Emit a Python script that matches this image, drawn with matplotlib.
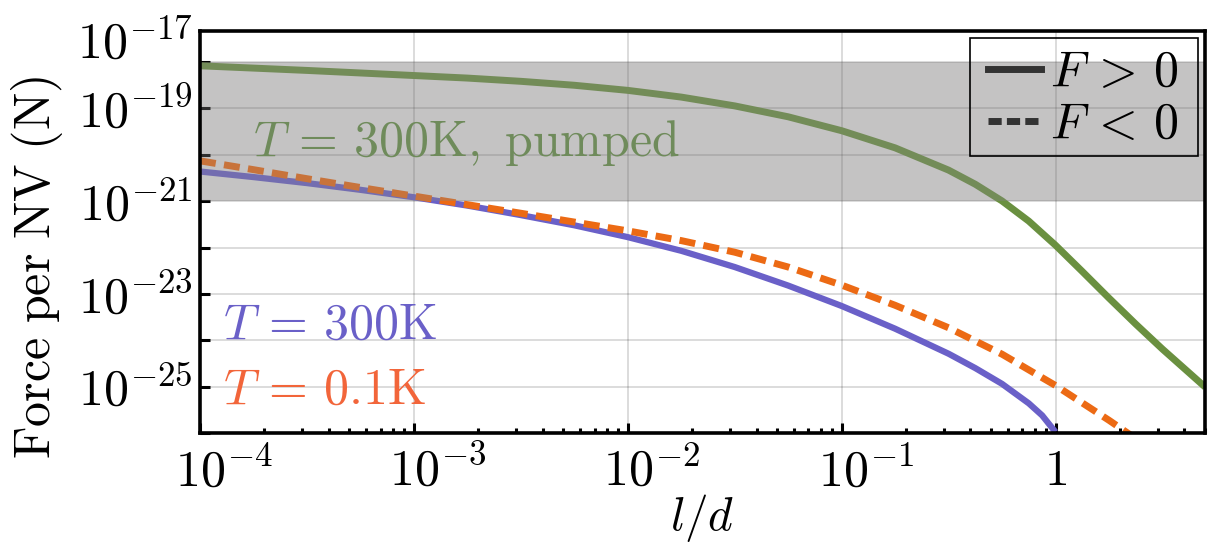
import numpy as np
import matplotlib
matplotlib.use("Agg")
import matplotlib.pyplot as plt
from matplotlib.lines import Line2D
from matplotlib.patches import Rectangle
from matplotlib.ticker import FixedLocator, FuncFormatter, LogLocator, NullLocator, NullFormatter
from matplotlib.transforms import ScaledTranslation

# log10(l/d) and log10(force per NV / N)
logld_pumped = [-4.0, -3.75, -3.5, -3.25, -3.0, -2.75, -2.5, -2.25, -2.0, -1.75, -1.5, -1.25,
                -1.0, -0.75, -0.5, -0.375, -0.25, -0.125, 0.0, 0.125, 0.25, 0.375, 0.5, 0.7]
logF_pumped = [-18.08, -18.13, -18.18, -18.235, -18.29, -18.345, -18.415, -18.50, -18.61,
               -18.755, -18.945, -19.18, -19.48, -19.85, -20.33, -20.635, -20.995, -21.43,
               -21.95, -22.515, -23.09, -23.65, -24.19, -25.01]

logld_300k = [-4.0, -3.75, -3.5, -3.25, -3.0, -2.75, -2.5, -2.25, -2.0, -1.75, -1.5, -1.25,
              -1.0, -0.75, -0.5, -0.375, -0.25, -0.125, -0.0625, 0.0]
logF_300k = [-20.36, -20.48, -20.61, -20.755, -20.915, -21.095, -21.30, -21.52, -21.775,
             -22.07, -22.42, -22.82, -23.26, -23.75, -24.29, -24.60, -24.94, -25.36,
             -25.62, -25.98]

logld_01k = [-4.0, -3.75, -3.5, -3.25, -3.0, -2.75, -2.5, -2.25, -2.0, -1.75, -1.5, -1.25,
             -1.0, -0.75, -0.5, -0.25, 0.0, 0.25, 0.375]
logF_01k = [-20.13, -20.32, -20.515, -20.705, -20.89, -21.075, -21.26, -21.45, -21.64,
            -21.85, -22.10, -22.42, -22.81, -23.245, -23.73, -24.30, -24.975, -25.725,
            -26.12]

band_low, band_high = 1e-21, 1e-18

xticks = [1e-4, 1e-3, 1e-2, 1e-1, 1.0]
xticklabels = [r"$10^{-4}$", r"$10^{-3}$", r"$10^{-2}$", r"$10^{-1}$", r"$1$"]
yexponents = [-26, -25, -24, -23, -22, -21, -20, -19, -18]
ylabeled = [-25, -23, -21, -19]

C_GREEN = "#6a9040"
C_GREEN_TXT = "#6f8b5b"
C_PURPLE = "#6a60c8"
C_ORANGE = "#ec6a14"
C_ORANGE_TXT = "#f2653a"
FS = 36

plt.rcParams["mathtext.fontset"] = "cm"
plt.rcParams["font.family"] = "serif"

fig = plt.figure(figsize=(12.09, 5.44), dpi=100)
ax = fig.add_axes([0.1654, 0.204, 0.8313, 0.739])

ax.set_xscale("log")
ax.set_yscale("log")
ax.set_xlim(1e-4, 5.0)
ax.set_ylim(1e-26, 10 ** -17.33)

# shaded band: light underlay below the curves, translucent overlay above
ax.axhspan(band_low, band_high, color="#e6e4e4", lw=0, zorder=0.5)
ax.axhspan(band_low, band_high, color="#868686", alpha=0.35, lw=0, zorder=3)

ax.plot(10.0 ** np.array(logld_pumped), 10.0 ** np.array(logF_pumped), color=C_GREEN,
        lw=5, zorder=2, solid_capstyle="butt", solid_joinstyle="round")
ax.plot(10.0 ** np.array(logld_300k), 10.0 ** np.array(logF_300k), color=C_PURPLE,
        lw=4.5, zorder=2, solid_capstyle="butt", solid_joinstyle="round")
line01, = ax.plot(10.0 ** np.array(logld_01k), 10.0 ** np.array(logF_01k), color=C_ORANGE,
                  lw=5, zorder=2.1, dash_capstyle="butt")
line01.set_dashes((2.3, 1.2))

# grid
ax.grid(True, which="major", color="black", alpha=0.18, lw=1.1)
for gl in ax.get_xgridlines() + ax.get_ygridlines():
    gl.set_zorder(1)

# ticks
ax.xaxis.set_major_locator(FixedLocator(xticks))
ax.set_xticklabels(xticklabels)
ax.xaxis.set_minor_locator(LogLocator(base=10, subs=np.arange(2, 10)))
ax.xaxis.set_minor_formatter(NullFormatter())
ax.yaxis.set_major_locator(FixedLocator([10.0 ** e for e in yexponents]))
ax.yaxis.set_minor_locator(NullLocator())
ax.yaxis.set_major_formatter(FuncFormatter(
    lambda v, p: r"$10^{%d}$" % round(np.log10(v)) if round(np.log10(v)) in ylabeled else ""))

ax.tick_params(which="both", direction="in", top=False, right=False, width=2.2,
               labelsize=FS)
ax.tick_params(axis="x", which="major", length=7, pad=10)
ax.tick_params(axis="x", which="minor", length=3.5)
ax.tick_params(axis="y", which="major", length=7, pad=5)

for s in ax.spines.values():
    s.set_linewidth(2.6)
    s.set_zorder(6)

# shift x tick labels so the base "10" sits on the tick
offset = ScaledTranslation(0.24, 0, fig.dpi_scale_trans)
for lab, txt in zip(ax.get_xticklabels(), xticklabels):
    if txt != r"$1$":
        lab.set_transform(lab.get_transform() + offset)

ax.text(-0.007, 0.98, r"$10^{-17}$", transform=ax.transAxes, ha="right",
        va="center_baseline", fontsize=FS, clip_on=False)

ax.set_xlabel(r"$l/d$", fontsize=34, labelpad=-3)
ax.set_ylabel(r"$\mathrm{Force\ per\ NV\ (N)}$", fontsize=FS)
ax.yaxis.set_label_coords(-0.134, 0.413)

ax.text(10 ** -3.752, 10 ** -20.02, r"$T\,=\,300\mathrm{K},\ \mathrm{pumped}$",
        color=C_GREEN_TXT, fontsize=FS, ha="left", va="baseline", zorder=4)
ax.text(10 ** -3.893, 10 ** -23.96, r"$T\,=\,300\mathrm{K}$",
        color=C_PURPLE, fontsize=FS, ha="left", va="baseline", zorder=4)
ax.text(10 ** -3.893, 10 ** -25.36, r"$T\,=\,0.1\mathrm{K}$",
        color=C_ORANGE_TXT, fontsize=FS, ha="left", va="baseline", zorder=4)

# legend (content without frame) plus a separate box drawn around it
h_pos = Line2D([], [], color="#333333", lw=5)
h_neg = Line2D([], [], color="#333333", lw=5, dashes=(1.9, 0.75), dash_capstyle="butt")
leg = ax.legend([h_pos, h_neg], [r"$F\,>\,0$", r"$F\,<\,0$"], loc="upper right",
                bbox_to_anchor=(0.983, 0.983), borderaxespad=0, fontsize=FS,
                frameon=False, handlelength=1.05, handletextpad=0.18,
                labelspacing=0.05, borderpad=0.2)
leg.set_zorder(7)
ax.add_patch(Rectangle((0.766, 0.689), 0.227, 0.294, transform=ax.transAxes,
                       fill=False, ec="black", lw=1.2, zorder=7))

fig.savefig("out.png", dpi=100)
